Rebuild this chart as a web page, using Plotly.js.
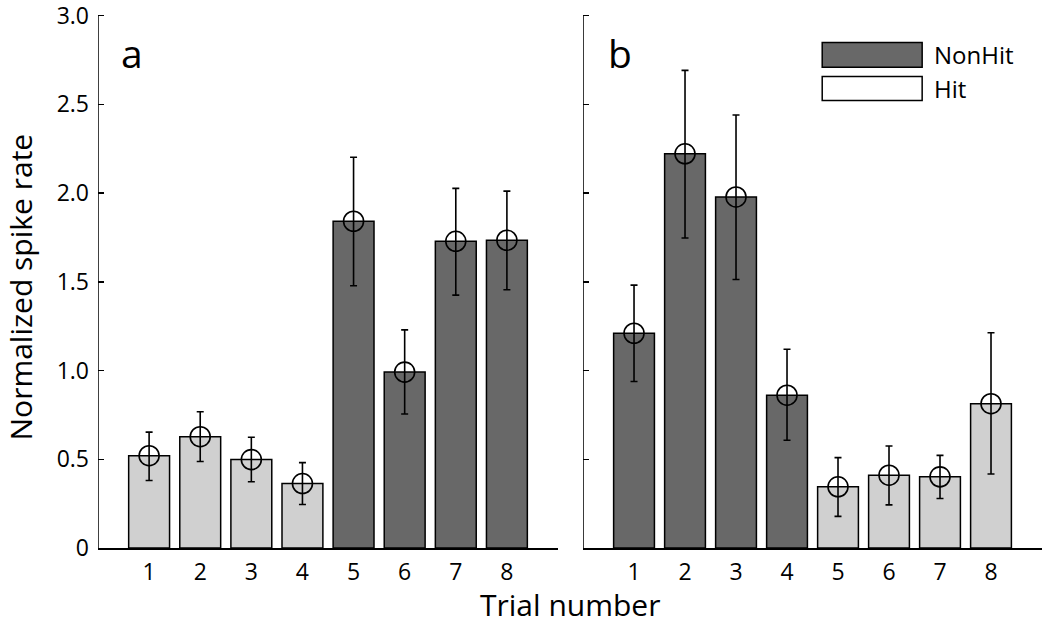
<!DOCTYPE html>
<html>
<head>
<meta charset="utf-8">
<script src="https://cdn.plot.ly/plotly-3.0.1.min.js"></script>
<style>html,body{margin:0;padding:0;background:#fff;}#chart{width:1050px;height:624px;}</style>
</head>
<body>
<div id="chart"></div>
<script>
// ---- data ----
var trials = [1, 2, 3, 4, 5, 6, 7, 8];
var trialLabels = ['1', '2', '3', '4', '5', '6', '7', '8'];

var typeA = ['Hit', 'Hit', 'Hit', 'Hit', 'NonHit', 'NonHit', 'NonHit', 'NonHit'];
var meanA = [0.52, 0.627, 0.498, 0.363, 1.841, 0.991, 1.728, 1.734];
var upperA = [0.653, 0.768, 0.624, 0.481, 2.202, 1.229, 2.026, 2.011];
var lowerA = [0.380, 0.487, 0.373, 0.245, 1.478, 0.755, 1.425, 1.455];

var typeB = ['NonHit', 'NonHit', 'NonHit', 'NonHit', 'Hit', 'Hit', 'Hit', 'Hit'];
var meanB = [1.210, 2.221, 1.978, 0.861, 0.345, 0.410, 0.401, 0.813];
var upperB = [1.481, 2.691, 2.440, 1.120, 0.509, 0.575, 0.522, 1.213];
var lowerB = [0.938, 1.747, 1.513, 0.607, 0.178, 0.243, 0.279, 0.417];

var yTickVals = [0, 0.5, 1.0, 1.5, 2.0, 2.5, 3.0];
var yTickText = ['0', '0.5', '1.0', '1.5', '2.0', '2.5', '3.0'];

var legendNames = ['NonHit', 'Hit'];

// ---- styles ----
var FONT = 'Open Sans, Liberation Sans, sans-serif';
var barColors = {Hit: '#d0d0d0', NonHit: '#686868'};
var legendFill = {NonHit: '#686868', Hit: '#ffffff'};
var yTop = yTickVals[yTickVals.length - 1];

function barTrace(means, types, xa, ya) {
  return {
    type: 'bar', x: trials, y: means, xaxis: xa, yaxis: ya,
    width: 0.8,
    marker: {color: types.map(function(t){return barColors[t];}), line: {color: '#000', width: 1.5}},
    showlegend: false, hoverinfo: 'skip'
  };
}
function errTrace(means, upper, lower, xa, ya) {
  return {
    type: 'scatter', mode: 'markers', x: trials, y: means, xaxis: xa, yaxis: ya,
    marker: {symbol: 'circle-open', size: 20, color: '#000', line: {color: '#000', width: 1.6}},
    error_y: {
      type: 'data', symmetric: false,
      array: upper.map(function(u, i){return u - means[i];}),
      arrayminus: lower.map(function(l, i){return means[i] - l;}),
      color: '#000', thickness: 1.6, width: 3.5
    },
    cliponaxis: false, showlegend: false, hoverinfo: 'skip'
  };
}

var data = [
  barTrace(meanA, typeA, 'x', 'y'),
  errTrace(meanA, upperA, lowerA, 'x', 'y'),
  barTrace(meanB, typeB, 'x2', 'y2'),
  errTrace(meanB, upperB, lowerB, 'x2', 'y2')
];

var xCommon = {
  range: [0, 9], tickvals: trials, ticktext: trialLabels,
  showline: true, linecolor: '#000', linewidth: 1.5,
  ticks: '', showgrid: false, zeroline: false,
  tickfont: {family: FONT, size: 23, color: '#000'},
  ticklabelstandoff: 3, fixedrange: true
};
var yCommon = {
  range: [0, 3.02], tickvals: yTickVals, ticktext: yTickText,
  showline: false,
  ticks: 'inside', ticklen: 6, tickwidth: 1.5, tickcolor: '#000',
  showgrid: false, zeroline: false,
  tickfont: {family: FONT, size: 23, color: '#000'},
  ticklabelstandoff: 8, ticklabeloverflow: 'allow', fixedrange: true
};

function yLine(xref, yref) {
  return {type: 'line', xref: xref, yref: yref, x0: 0, x1: 0, y0: 0, y1: yTop,
          line: {color: '#000', width: 1.5}, layer: 'above'};
}

var layout = {
  width: 1050, height: 624,
  margin: {l: 98, r: 8, t: 12, b: 76},
  paper_bgcolor: '#fff', plot_bgcolor: 'rgba(0,0,0,0)',
  font: {family: FONT, color: '#000'},
  showlegend: false,
  xaxis: Object.assign({}, xCommon, {domain: [0, 0.4873], anchor: 'y'}),
  yaxis: Object.assign({}, yCommon, {anchor: 'x'}),
  xaxis2: Object.assign({}, xCommon, {domain: [0.5138, 1], anchor: 'y2'}),
  yaxis2: Object.assign({}, yCommon, {anchor: 'x2', showticklabels: false}),
  shapes: [
    yLine('x', 'y'),
    yLine('x2', 'y2'),
    {type: 'rect', xref: 'x2', yref: 'y2', x0: 4.69, x1: 6.65, y0: 2.708, y1: 2.848,
     fillcolor: legendFill[legendNames[0]], line: {color: '#000', width: 1.5}},
    {type: 'rect', xref: 'x2', yref: 'y2', x0: 4.69, x1: 6.65, y0: 2.522, y1: 2.657,
     fillcolor: legendFill[legendNames[1]], line: {color: '#000', width: 1.5}}
  ],
  annotations: [
    {text: legendNames[0], xref: 'x2', yref: 'y2', x: 6.84, y: 2.778, xanchor: 'left', yanchor: 'middle',
     showarrow: false, font: {family: FONT, size: 24, color: '#000'}},
    {text: legendNames[1], xref: 'x2', yref: 'y2', x: 6.84, y: 2.59, xanchor: 'left', yanchor: 'middle',
     showarrow: false, font: {family: FONT, size: 24, color: '#000'}},
    {text: 'a', xref: 'paper', yref: 'paper', x: 0.0365, y: 0.925, xanchor: 'center', yanchor: 'middle',
     showarrow: false, font: {family: FONT, size: 39, color: '#000'}},
    {text: 'b', xref: 'paper', yref: 'paper', x: 0.553, y: 0.925, xanchor: 'center', yanchor: 'middle',
     showarrow: false, font: {family: FONT, size: 39, color: '#000'}},
    {text: 'Trial number', xref: 'paper', yref: 'paper', x: 0.5, y: -0.1063, xanchor: 'center', yanchor: 'middle',
     showarrow: false, font: {family: FONT, size: 30, color: '#000'}},
    {text: 'Normalized spike rate', xref: 'paper', yref: 'paper', x: -0.0821, y: 0.487, xanchor: 'center', yanchor: 'middle',
     textangle: -90, showarrow: false, font: {family: FONT, size: 30, color: '#000'}}
  ]
};

Plotly.newPlot('chart', data, layout, {displayModeBar: false, staticPlot: true});
</script>
</body>
</html>
